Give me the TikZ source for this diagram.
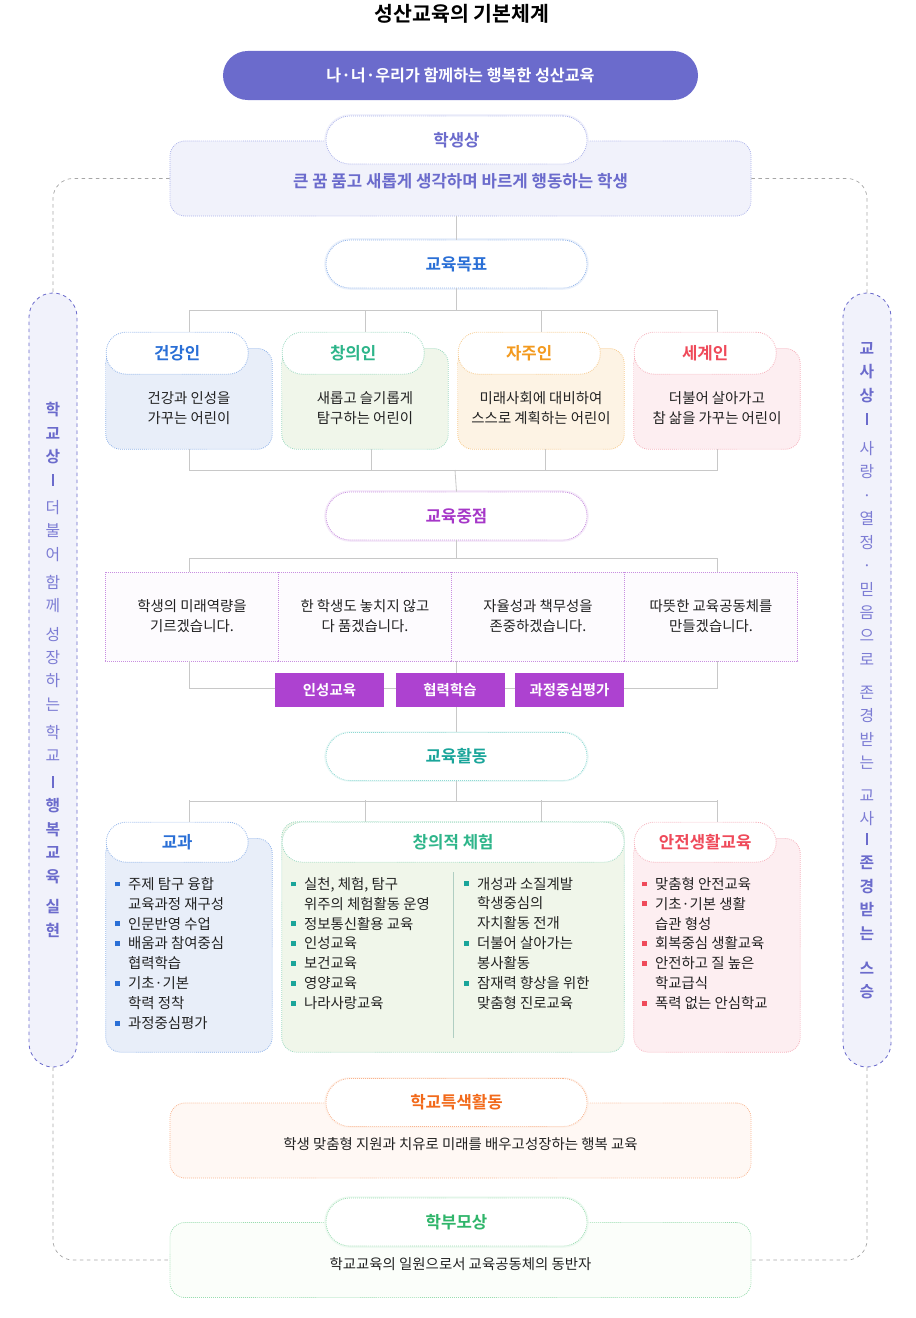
\documentclass[tikz,border=0pt]{standalone}
\usepackage{fontspec}
\setmainfont{Noto Sans CJK KR}[BoldFont={Noto Sans CJK KR Bold}]
\usetikzlibrary{positioning}

\definecolor{indigo}{HTML}{6B6BCC}
\definecolor{indigolt}{HTML}{7C7CD4}
\definecolor{lavfill}{HTML}{F1F2FB}
\definecolor{lavline}{HTML}{A9B0EA}
\definecolor{blu}{HTML}{2A6FD6}
\definecolor{blufill}{HTML}{E8EEF9}
\definecolor{bluline}{HTML}{8FB3EA}
\definecolor{grn}{HTML}{2EB58A}
\definecolor{grnfill}{HTML}{F0F6EA}
\definecolor{grnline}{HTML}{9AD9C0}
\definecolor{org}{HTML}{F39A1F}
\definecolor{orgfill}{HTML}{FDF3E4}
\definecolor{orgline}{HTML}{F7C98A}
\definecolor{rd}{HTML}{EF4A5A}
\definecolor{rdfill}{HTML}{FDEEF1}
\definecolor{rdline}{HTML}{F6B0BB}
\definecolor{prp}{HTML}{A637C8}
\definecolor{tagfill}{HTML}{AD42D0}
\definecolor{prpline}{HTML}{C88EE0}
\definecolor{prpfill}{HTML}{FDFBFE}
\definecolor{teal}{HTML}{1AA59A}
\definecolor{tealline}{HTML}{8ED9D3}
\definecolor{coral}{HTML}{F26A1B}
\definecolor{coralline}{HTML}{F9B48E}
\definecolor{coralfill}{HTML}{FFF8F4}
\definecolor{lime}{HTML}{2FB56A}
\definecolor{limeline}{HTML}{9ADDB0}
\definecolor{limefill}{HTML}{FBFEFA}
\definecolor{ink}{HTML}{222222}
\definecolor{connline}{HTML}{C8C8C8}

\newcommand\fbody{\fontsize{12.3}{17}\selectfont}
\newcommand\fhead{\fontsize{14.3}{16}\selectfont\bfseries}
\newcommand\vbarmark{\rule{1.6pt}{0.36cm}}
\newcommand\itm[2]{\makebox[11pt][l]{\textcolor{#1}{\raisebox{2.5pt}{\rule{4pt}{4pt}}}}#2}
\newcommand\cnt[1]{\hspace*{11pt}#1}

\tikzset{
  conn/.style={draw=connline, line width=0.7pt},
  sideline/.style={draw=black!35, dashed, line width=0.6pt, rounded corners=0.6cm},
  pill/.style={draw=#1, densely dotted, line width=0.7pt, fill=white, rounded corners=0.72cm,
    minimum width=7.83cm, minimum height=1.44cm, text=#1, font=\fhead},
  glow/.style={draw=#1!18, line width=3pt, rounded corners=0.72cm},
  wide/.style 2 args={draw=#1, densely dotted, line width=0.7pt, fill=#2, rounded corners=0.45cm,
    minimum width=17.43cm, minimum height=2.25cm},
  card/.style={minimum width=4.98cm, minimum height=3.51cm},
  body/.style 2 args={draw=#1, densely dotted, line width=0.7pt, fill=#2, rounded corners=0.45cm},
  tab/.style 2 args={draw=#1, densely dotted, line width=0.7pt, fill=white, rounded corners=0.6cm,
    minimum width=4.26cm, minimum height=1.26cm, text=#2, font=\fhead, anchor=north west},
  cell/.style={draw=prpline, densely dotted, line width=0.7pt, fill=prpfill,
    minimum width=5.2cm, minimum height=2.67cm, text=ink, font=\fbody, align=center},
  tag/.style={fill=tagfill, text=white, font=\fontsize{12.3}{14}\selectfont\bfseries,
    minimum width=3.27cm, minimum height=1.02cm},
  column/.style={draw=indigo, dashed, line width=0.7pt, fill=lavfill, rounded corners=0.72cm,
    minimum width=1.44cm, minimum height=23.22cm},
  vbold/.style={align=center, inner sep=0pt, text=indigo, font=\fontsize{13.5}{20}\selectfont\bfseries},
  vlight/.style={align=center, inner sep=0pt, text=indigolt, font=\fontsize{13.5}{20}\selectfont},
}

\begin{document}
\begin{tikzpicture}[x=0.03cm, y=-0.03cm]
\useasboundingbox (0,0) rectangle (915,1318);

% title and motto
\node (title) at (462,14) {\fontsize{17.5}{20}\selectfont\bfseries 성산교육의 기본체계};
\node (motto) at (460.5,75.5) [fill=indigo, rounded corners=0.74cm, minimum width=14.25cm, minimum height=1.47cm,
  text=white, font=\fontsize{13.8}{16}\selectfont\bfseries] {나·너·우리가 함께하는 행복한 성산교육};

% side columns
\node (lcol) at (53,680) [column] {};
\node (rcol) at (867,680) [column] {};
\node (lA) at (53,402) [vbold, anchor=north] {학\\교\\상\\\vbarmark};
\node (lB) [vlight, below=12pt of lA] {더\\불\\어\\[4pt]함\\께\\[4pt]성\\장\\하\\는\\[4pt]학\\교};
\node (lC) [vbold, below=12pt of lB] {\vbarmark\\행\\복\\교\\육\\[6pt]실\\현};
\node (rA) at (867,342) [vbold, anchor=north] {교\\사\\상\\\vbarmark};
\node (rB) [vlight, below=14pt of rA] {사\\랑\\·\\열\\정\\·\\믿\\음\\으\\로\\[8pt]존\\경\\받\\는\\[8pt]교\\사};
\node (rC) [vbold, below=6pt of rB] {\vbarmark\\존\\경\\받\\는\\[10pt]스\\승};

% student image
\node (stu) at (460.5,178.5) [wide={lavline}{lavfill}, text=indigo, font=\fhead] {\raisebox{-17pt}{큰 꿈 품고 새롭게 생각하며 바르게 행동하는 학생}};
\draw[glow=lavline] (326,116) rectangle (587,164);
\node (stuT) at (456.5,140) [pill=indigo, draw=lavline] {학생상};

% dashed side connectors
\draw[sideline] (stu.west) -| (lcol.north);
\draw[sideline] (stu.east) -| (rcol.north);

% goals
\draw[glow=bluline] (326,240) rectangle (587,288);
\node (goal) at (456.5,264) [pill=blu, draw=bluline] {교육목표};
\draw[conn] (stu.south -| goal.north) -- (goal.north);
\draw[conn] (goal.south) -- ++(0,22) coordinate (g1);

\foreach \nm/\cx/\lc/\fc/\tc/\ttl/\txt in {
  hea/189/bluline/blufill/blu/건강인/{건강과 인성을\\가꾸는 어린이},
  cre/365/grnline/grnfill/grn/창의인/{새롭고 슬기롭게\\탐구하는 어린이},
  ind/541/orgline/orgfill/org/자주인/{미래사회에 대비하여\\스스로 계획하는 어린이},
  glo/717/rdline/rdfill/rd/세계인/{더불어 살아가고\\참 삶을 가꾸는 어린이}} {
  \node (\nm) at (\cx,390.5) [card] {};
  \draw[body={\lc}{\fc}] ([yshift=-0.5cm]\nm.north west) rectangle (\nm.south east);
  \fill[\fc] ([yshift=-0.9cm]\nm.north west) rectangle ++(20,30);
  \node (\nm T) at (\nm.north west) [tab={\lc}{\tc}] {\ttl};
  \node at (\cx,408) [text=ink, font=\fbody, align=center] {\txt};
  \draw[conn] (\nm.north |- g1) -- (\nm.north);
}
\draw[conn] (hea.north |- g1) -- (glo.north |- g1);

% focus
\coordinate (g2) at (455,470);
\draw[conn] (hea.south) -- (hea.south |- g2) -- (glo.south |- g2) -- (glo.south);
\draw[conn] ([xshift=0.2cm]cre.south) -- ([xshift=0.2cm]cre.south |- g2);
\draw[conn] ([xshift=0.12cm]ind.south) -- ([xshift=0.12cm]ind.south |- g2);
\draw[glow=prpline] (326,492) rectangle (587,540);
\node (pri) at (456.5,516) [pill=prp, draw=prpline] {교육중점};
\draw[conn] (g2) -- (pri.north);
\draw[conn] (pri.south) -- ++(0,18) coordinate (g3);

\node (c1) at (192,616.5) [cell] {학생의 미래역량을\\기르겠습니다.};
\node (c2) at (365,616.5) [cell] {한 학생도 놓치지 않고\\다 품겠습니다.};
\node (c3) at (538,616.5) [cell] {자율성과 책무성을\\존중하겠습니다.};
\node (c4) at (711,616.5) [cell] {따뜻한 교육공동체를\\만들겠습니다.};
\draw[conn] (c1.north -| hea.north) |- (g3) -| (c4.north -| glo.north);

\coordinate (g4) at (455,688);
\draw[conn] (c1.south -| hea.north) -- (hea.north |- g4) -- (glo.north |- g4) -- (c4.south -| glo.north);

% activities
\draw[glow=tealline] (326,733) rectangle (587,780);
\node (act) at (456.5,756.5) [pill=teal, draw=tealline] {교육활동};
\draw[conn] (act.north |- c2.south) -- (act.north);
\node (t1) at (329.5,690) [tag] {인성교육};
\node (t2) at (450,690) [tag] {협력학습};
\node (t3) at (569.5,690) [tag] {과정중심평가};
\draw[conn] (act.south) -- ++(0,20) coordinate (g5);

\node (sub) at (189,937) [card, minimum height=6.9cm] {};
\node (exp) at (453,937) [minimum width=10.26cm, minimum height=6.9cm] {};
\node (saf) at (717,937) [card, minimum height=6.9cm] {};
\draw[conn] (sub.north |- g5) -- (saf.north |- g5);
\foreach \cx in {189, 365, 541, 717}
  \draw[conn] (\cx,800) -- (sub.north -| \cx,0);

\draw[body={bluline}{blufill}] ([yshift=-0.5cm]sub.north west) rectangle (sub.south east);
\fill[blufill] ([yshift=-0.9cm]sub.north west) rectangle ++(20,30);
\node (subT) at (sub.north west) [tab={bluline}{blu}, minimum height=1.2cm] {교과};
\draw[body={grnline}{grnfill}] (exp.north west) rectangle (exp.south east);
\node (expT) at (exp.north west) [tab={grnline}{grn}, minimum width=10.26cm, minimum height=1.2cm] {창의적 체험};
\draw[body={rdline}{rdfill}] ([yshift=-0.5cm]saf.north west) rectangle (saf.south east);
\fill[rdfill] ([yshift=-0.9cm]saf.north west) rectangle ++(20,30);
\node (safT) at (saf.north west) [tab={rdline}{rd}, minimum height=1.2cm] {안전생활교육};
\draw[grnline!80!black!60, line width=0.6pt] (453,872) -- (453,1038);

\node at (111,873) [anchor=north west, align=left, text=ink, font=\fbody] {
  \itm{blu}{주제 탐구 융합}\\\cnt{교육과정 재구성}\\\itm{blu}{인문반영 수업}\\
  \itm{blu}{배움과 참여중심}\\\cnt{협력학습}\\\itm{blu}{기초·기본}\\\cnt{학력 정착}\\
  \itm{blu}{과정중심평가}};
\node at (287,873) [anchor=north west, align=left, text=ink, font=\fbody] {
  \itm{teal}{실천, 체험, 탐구}\\\cnt{위주의 체험활동 운영}\\\itm{teal}{정보통신활용 교육}\\
  \itm{teal}{인성교육}\\\itm{teal}{보건교육}\\\itm{teal}{영양교육}\\\itm{teal}{나라사랑교육}};
\node at (460,873) [anchor=north west, align=left, text=ink, font=\fbody] {
  \itm{teal}{개성과 소질계발}\\\cnt{학생중심의}\\\cnt{자치활동 전개}\\
  \itm{teal}{더불어 살아가는}\\\cnt{봉사활동}\\\itm{teal}{잠재력 향상을 위한}\\\cnt{맞춤형 진로교육}};
\node at (638,873) [anchor=north west, align=left, text=ink, font=\fbody] {
  \itm{rd}{맞춤형 안전교육}\\\itm{rd}{기초·기본 생활}\\\cnt{습관 형성}\\
  \itm{rd}{회복중심 생활교육}\\\itm{rd}{안전하고 질 높은}\\\cnt{학교급식}\\\itm{rd}{폭력 없는 안심학교}};

% special activities
\node (spe) at (460.5,1140.5) [wide={coralline}{coralfill}, text=ink, font=\fbody] {\raisebox{-17pt}{학생 맞춤형 지원과 치유로 미래를 배우고성장하는 행복 교육}};
\draw[glow=coralline] (326,1079) rectangle (587,1126);
\node (speT) at (456.5,1102.5) [pill=coral, draw=coralline] {학교특색활동};

% parents
\node (par) at (460.5,1260) [wide={limeline}{limefill}, text=ink, font=\fbody] {\raisebox{-17pt}{학교교육의 일원으로서 교육공동체의 동반자}};
\draw[glow=limeline] (326,1198) rectangle (587,1246);
\node (parT) at (456.5,1222) [pill=lime, draw=limeline] {학부모상};

\draw[sideline] (lcol.south) |- (par.west);
\draw[sideline] (rcol.south) |- (par.east);
\end{tikzpicture}
\end{document}
